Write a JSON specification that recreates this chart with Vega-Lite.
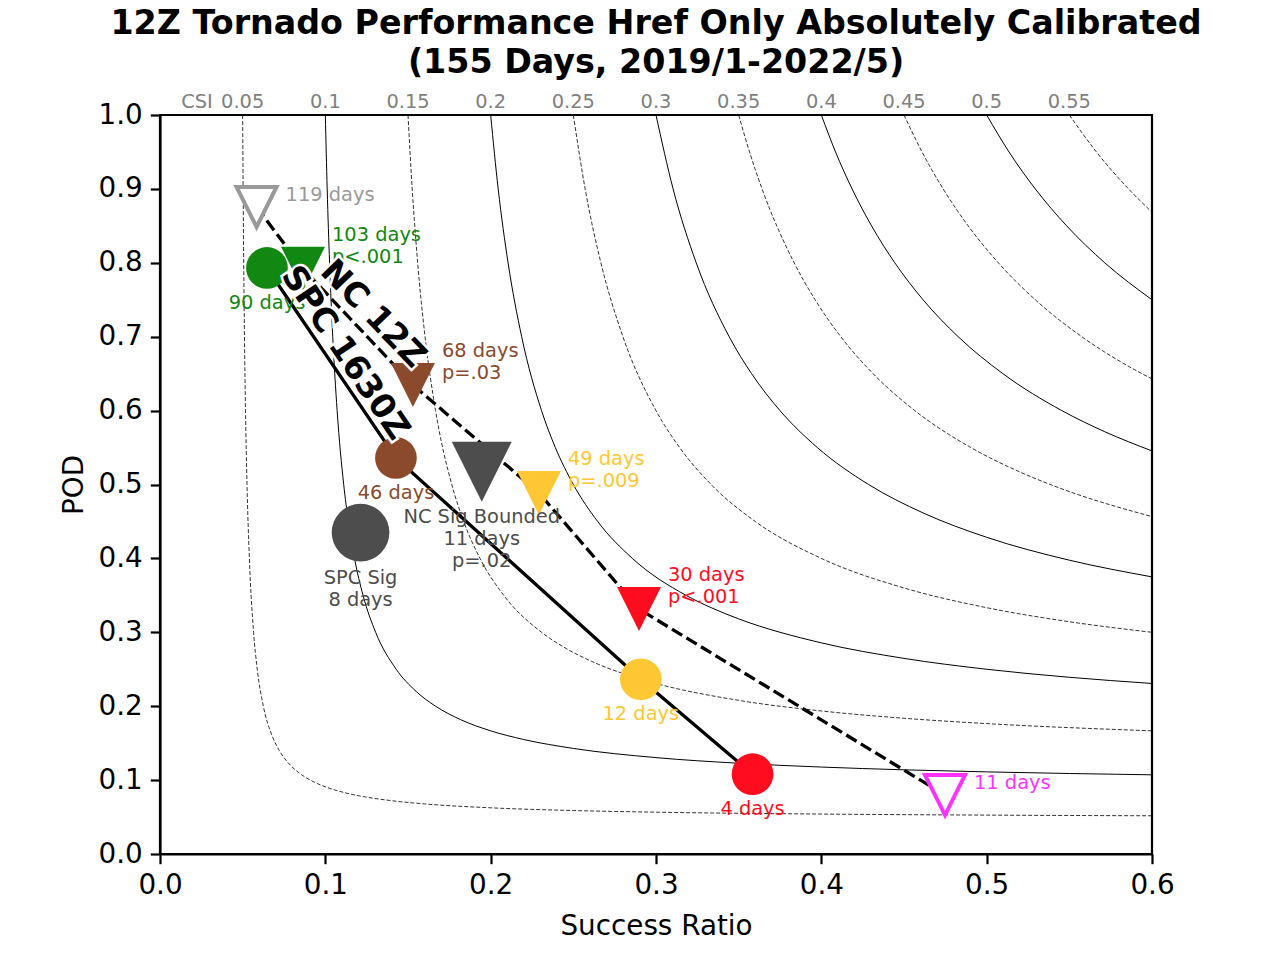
{
  "$schema": "https://vega.github.io/schema/vega-lite/v6.json",
  "width": 992,
  "height": 739,
  "autosize": "none",
  "padding": {"left": 160, "top": 115, "right": 128, "bottom": 106},
  "title": {
    "text": ["12Z Tornado Performance Href Only Absolutely Calibrated", "(155 Days, 2019/1-2022/5)"],
    "font": "DejaVu Sans",
    "fontSize": 33.3,
    "fontWeight": "bold",
    "color": "black",
    "anchor": "middle",
    "frame": "group",
    "lineHeight": 39,
    "offset": 12
  },
  "config": {
    "view": {"stroke": "black", "strokeWidth": 2.2},
    "axis": {
      "labelFont": "DejaVu Sans",
      "titleFont": "DejaVu Sans",
      "labelFontSize": 27.8,
      "titleFontSize": 27.8,
      "titleFontWeight": "normal",
      "labelColor": "black",
      "titleColor": "black",
      "tickColor": "black",
      "domainColor": "black",
      "tickSize": 9.7,
      "tickWidth": 2.2,
      "domainWidth": 2.2,
      "labelPadding": 8,
      "grid": false,
      "labelFlush": false,
      "labelOverlap": false
    },
    "text": {"font": "DejaVu Sans"}
  },
  "datasets": {
    "csiSolid": [
      {"csi": 0.1, "sr": 0.1, "pod": 1}, {"csi": 0.1, "sr": 0.10112, "pod": 0.9}, {"csi": 0.1, "sr": 0.10256, "pod": 0.8}, {"csi": 0.1, "sr": 0.10448, "pod": 0.7}, {"csi": 0.1, "sr": 0.10714, "pod": 0.6}, {"csi": 0.1, "sr": 0.11111, "pod": 0.5}, {"csi": 0.1, "sr": 0.11392, "pod": 0.45}, {"csi": 0.1, "sr": 0.11765, "pod": 0.4}, {"csi": 0.1, "sr": 0.12281, "pod": 0.35}, {"csi": 0.1, "sr": 0.13043, "pod": 0.3}, {"csi": 0.1, "sr": 0.14286, "pod": 0.25}, {"csi": 0.1, "sr": 0.15493, "pod": 0.22}, {"csi": 0.1, "sr": 0.16667, "pod": 0.2}, {"csi": 0.1, "sr": 0.18182, "pod": 0.18182}, {"csi": 0.1, "sr": 0.2, "pod": 0.16667}, {"csi": 0.1, "sr": 0.22, "pod": 0.15493}, {"csi": 0.1, "sr": 0.25, "pod": 0.14286}, {"csi": 0.1, "sr": 0.3, "pod": 0.13043}, {"csi": 0.1, "sr": 0.35, "pod": 0.12281}, {"csi": 0.1, "sr": 0.4, "pod": 0.11765}, {"csi": 0.1, "sr": 0.45, "pod": 0.11392}, {"csi": 0.1, "sr": 0.5, "pod": 0.11111}, {"csi": 0.1, "sr": 0.6, "pod": 0.10714},
      {"csi": 0.2, "sr": 0.2, "pod": 1}, {"csi": 0.2, "sr": 0.20455, "pod": 0.9}, {"csi": 0.2, "sr": 0.21053, "pod": 0.8}, {"csi": 0.2, "sr": 0.21875, "pod": 0.7}, {"csi": 0.2, "sr": 0.23077, "pod": 0.6}, {"csi": 0.2, "sr": 0.23913, "pod": 0.55}, {"csi": 0.2, "sr": 0.25, "pod": 0.5}, {"csi": 0.2, "sr": 0.26471, "pod": 0.45}, {"csi": 0.2, "sr": 0.28571, "pod": 0.4}, {"csi": 0.2, "sr": 0.31818, "pod": 0.35}, {"csi": 0.2, "sr": 0.33333, "pod": 0.33333}, {"csi": 0.2, "sr": 0.35, "pod": 0.31818}, {"csi": 0.2, "sr": 0.4, "pod": 0.28571}, {"csi": 0.2, "sr": 0.45, "pod": 0.26471}, {"csi": 0.2, "sr": 0.5, "pod": 0.25}, {"csi": 0.2, "sr": 0.55, "pod": 0.23913}, {"csi": 0.2, "sr": 0.6, "pod": 0.23077},
      {"csi": 0.3, "sr": 0.3, "pod": 1}, {"csi": 0.3, "sr": 0.31034, "pod": 0.9}, {"csi": 0.3, "sr": 0.32432, "pod": 0.8}, {"csi": 0.3, "sr": 0.34426, "pod": 0.7}, {"csi": 0.3, "sr": 0.3578, "pod": 0.65}, {"csi": 0.3, "sr": 0.375, "pod": 0.6}, {"csi": 0.3, "sr": 0.39759, "pod": 0.55}, {"csi": 0.3, "sr": 0.42857, "pod": 0.5}, {"csi": 0.3, "sr": 0.46154, "pod": 0.46154}, {"csi": 0.3, "sr": 0.5, "pod": 0.42857}, {"csi": 0.3, "sr": 0.55, "pod": 0.39759}, {"csi": 0.3, "sr": 0.6, "pod": 0.375},
      {"csi": 0.4, "sr": 0.4, "pod": 1}, {"csi": 0.4, "sr": 0.4086, "pod": 0.95}, {"csi": 0.4, "sr": 0.4186, "pod": 0.9}, {"csi": 0.4, "sr": 0.43038, "pod": 0.85}, {"csi": 0.4, "sr": 0.44444, "pod": 0.8}, {"csi": 0.4, "sr": 0.46154, "pod": 0.75}, {"csi": 0.4, "sr": 0.48276, "pod": 0.7}, {"csi": 0.4, "sr": 0.5098, "pod": 0.65}, {"csi": 0.4, "sr": 0.54545, "pod": 0.6}, {"csi": 0.4, "sr": 0.57143, "pod": 0.57143}, {"csi": 0.4, "sr": 0.6, "pod": 0.54545},
      {"csi": 0.5, "sr": 0.5, "pod": 1}, {"csi": 0.5, "sr": 0.51351, "pod": 0.95}, {"csi": 0.5, "sr": 0.52941, "pod": 0.9}, {"csi": 0.5, "sr": 0.54839, "pod": 0.85}, {"csi": 0.5, "sr": 0.57143, "pod": 0.8}, {"csi": 0.5, "sr": 0.6, "pod": 0.75}
    ],
    "csiDashed": [
      {"csi": 0.05, "sr": 0.05, "pod": 1}, {"csi": 0.05, "sr": 0.05028, "pod": 0.9}, {"csi": 0.05, "sr": 0.05063, "pod": 0.8}, {"csi": 0.05, "sr": 0.05109, "pod": 0.7}, {"csi": 0.05, "sr": 0.05172, "pod": 0.6}, {"csi": 0.05, "sr": 0.05263, "pod": 0.5}, {"csi": 0.05, "sr": 0.05405, "pod": 0.4}, {"csi": 0.05, "sr": 0.0566, "pod": 0.3}, {"csi": 0.05, "sr": 0.05882, "pod": 0.25}, {"csi": 0.05, "sr": 0.0625, "pod": 0.2}, {"csi": 0.05, "sr": 0.0678, "pod": 0.16}, {"csi": 0.05, "sr": 0.07216, "pod": 0.14}, {"csi": 0.05, "sr": 0.07895, "pod": 0.12}, {"csi": 0.05, "sr": 0.08397, "pod": 0.11}, {"csi": 0.05, "sr": 0.09091, "pod": 0.1}, {"csi": 0.05, "sr": 0.09524, "pod": 0.09524}, {"csi": 0.05, "sr": 0.1, "pod": 0.09091}, {"csi": 0.05, "sr": 0.11, "pod": 0.08397}, {"csi": 0.05, "sr": 0.12, "pod": 0.07895}, {"csi": 0.05, "sr": 0.14, "pod": 0.07216}, {"csi": 0.05, "sr": 0.16, "pod": 0.0678}, {"csi": 0.05, "sr": 0.2, "pod": 0.0625}, {"csi": 0.05, "sr": 0.25, "pod": 0.05882}, {"csi": 0.05, "sr": 0.3, "pod": 0.0566}, {"csi": 0.05, "sr": 0.4, "pod": 0.05405}, {"csi": 0.05, "sr": 0.5, "pod": 0.05263}, {"csi": 0.05, "sr": 0.6, "pod": 0.05172},
      {"csi": 0.15, "sr": 0.15, "pod": 1}, {"csi": 0.15, "sr": 0.15254, "pod": 0.9}, {"csi": 0.15, "sr": 0.15584, "pod": 0.8}, {"csi": 0.15, "sr": 0.16031, "pod": 0.7}, {"csi": 0.15, "sr": 0.16667, "pod": 0.6}, {"csi": 0.15, "sr": 0.17647, "pod": 0.5}, {"csi": 0.15, "sr": 0.18367, "pod": 0.45}, {"csi": 0.15, "sr": 0.19355, "pod": 0.4}, {"csi": 0.15, "sr": 0.20792, "pod": 0.35}, {"csi": 0.15, "sr": 0.23077, "pod": 0.3}, {"csi": 0.15, "sr": 0.24418, "pod": 0.28}, {"csi": 0.15, "sr": 0.26087, "pod": 0.26087}, {"csi": 0.15, "sr": 0.28, "pod": 0.24418}, {"csi": 0.15, "sr": 0.3, "pod": 0.23077}, {"csi": 0.15, "sr": 0.35, "pod": 0.20792}, {"csi": 0.15, "sr": 0.4, "pod": 0.19355}, {"csi": 0.15, "sr": 0.45, "pod": 0.18367}, {"csi": 0.15, "sr": 0.5, "pod": 0.17647}, {"csi": 0.15, "sr": 0.6, "pod": 0.16667},
      {"csi": 0.25, "sr": 0.25, "pod": 1}, {"csi": 0.25, "sr": 0.25714, "pod": 0.9}, {"csi": 0.25, "sr": 0.26667, "pod": 0.8}, {"csi": 0.25, "sr": 0.28, "pod": 0.7}, {"csi": 0.25, "sr": 0.3, "pod": 0.6}, {"csi": 0.25, "sr": 0.31429, "pod": 0.55}, {"csi": 0.25, "sr": 0.33333, "pod": 0.5}, {"csi": 0.25, "sr": 0.36, "pod": 0.45}, {"csi": 0.25, "sr": 0.4, "pod": 0.4}, {"csi": 0.25, "sr": 0.45, "pod": 0.36}, {"csi": 0.25, "sr": 0.5, "pod": 0.33333}, {"csi": 0.25, "sr": 0.55, "pod": 0.31429}, {"csi": 0.25, "sr": 0.6, "pod": 0.3},
      {"csi": 0.35, "sr": 0.35, "pod": 1}, {"csi": 0.35, "sr": 0.35657, "pod": 0.95}, {"csi": 0.35, "sr": 0.36416, "pod": 0.9}, {"csi": 0.35, "sr": 0.38356, "pod": 0.8}, {"csi": 0.35, "sr": 0.39623, "pod": 0.75}, {"csi": 0.35, "sr": 0.41176, "pod": 0.7}, {"csi": 0.35, "sr": 0.43128, "pod": 0.65}, {"csi": 0.35, "sr": 0.45652, "pod": 0.6}, {"csi": 0.35, "sr": 0.49043, "pod": 0.55}, {"csi": 0.35, "sr": 0.51852, "pod": 0.51852}, {"csi": 0.35, "sr": 0.53846, "pod": 0.5}, {"csi": 0.35, "sr": 0.55, "pod": 0.49043}, {"csi": 0.35, "sr": 0.6, "pod": 0.45652},
      {"csi": 0.45, "sr": 0.45, "pod": 1}, {"csi": 0.45, "sr": 0.46092, "pod": 0.95}, {"csi": 0.45, "sr": 0.47368, "pod": 0.9}, {"csi": 0.45, "sr": 0.48882, "pod": 0.85}, {"csi": 0.45, "sr": 0.50704, "pod": 0.8}, {"csi": 0.45, "sr": 0.52941, "pod": 0.75}, {"csi": 0.45, "sr": 0.55752, "pod": 0.7}, {"csi": 0.45, "sr": 0.5939, "pod": 0.65}, {"csi": 0.45, "sr": 0.6, "pod": 0.64286},
      {"csi": 0.55, "sr": 0.55, "pod": 1}, {"csi": 0.55, "sr": 0.56639, "pod": 0.95}, {"csi": 0.55, "sr": 0.5858, "pod": 0.9}, {"csi": 0.55, "sr": 0.6, "pod": 0.86842}
    ],
    "csiLabels": [
      {"t": "CSI", "sr": 0.0224, "pod": 1}, {"t": "0.05", "sr": 0.05, "pod": 1}, {"t": "0.1", "sr": 0.1, "pod": 1}, {"t": "0.15", "sr": 0.15, "pod": 1}, {"t": "0.2", "sr": 0.2, "pod": 1}, {"t": "0.25", "sr": 0.25, "pod": 1}, {"t": "0.3", "sr": 0.3, "pod": 1}, {"t": "0.35", "sr": 0.35, "pod": 1}, {"t": "0.4", "sr": 0.4, "pod": 1}, {"t": "0.45", "sr": 0.45, "pod": 1}, {"t": "0.5", "sr": 0.5, "pod": 1}, {"t": "0.55", "sr": 0.55, "pod": 1}
    ],
    "points": [
      {"model": "NC 12Z", "thr": "1%", "sr": 0.0584, "pod": 0.8755, "label": ["119 days"]},
      {"model": "NC 12Z", "thr": "2%", "sr": 0.0865, "pod": 0.792, "label": ["103 days", "p<.001"]},
      {"model": "NC 12Z", "thr": "5%", "sr": 0.153, "pod": 0.6346, "label": ["68 days", "p=.03"]},
      {"model": "NC 12Z", "thr": "10%", "sr": 0.2292, "pod": 0.4885, "label": ["49 days", "p=.009"]},
      {"model": "NC 12Z", "thr": "15%", "sr": 0.2897, "pod": 0.3315, "label": ["30 days", "p<.001"]},
      {"model": "NC 12Z", "thr": "30%", "sr": 0.4748, "pod": 0.0798, "label": ["11 days"]},
      {"model": "SPC 1630Z", "thr": "2%", "sr": 0.0647, "pod": 0.793, "label": ["90 days"]},
      {"model": "SPC 1630Z", "thr": "5%", "sr": 0.1427, "pod": 0.5359, "label": ["46 days"]},
      {"model": "SPC 1630Z", "thr": "10%", "sr": 0.2908, "pod": 0.2365, "label": ["12 days"]},
      {"model": "SPC 1630Z", "thr": "15%", "sr": 0.3584, "pod": 0.108, "label": ["4 days"]},
      {"model": "SPC 1630Z", "thr": "sig", "sr": 0.1213, "pod": 0.435, "label": ["SPC Sig", "8 days"]},
      {"model": "NC 12Z", "thr": "sig", "sr": 0.1946, "pod": 0.5173, "label": ["NC Sig Bounded", "11 days", "p=.02"]}
    ],
    "lineLabels": [
      {"model": "NC 12Z", "sr": 0.1288, "pod": 0.7307},
      {"model": "SPC 1630Z", "sr": 0.1119, "pod": 0.678}
    ]
  },
  "encoding": {
    "x": {"field": "sr", "type": "quantitative", "scale": {"domain": [0, 0.6], "nice": false, "zero": false}, "axis": {"title": "Success Ratio", "values": [0, 0.1, 0.2, 0.3, 0.4, 0.5, 0.6], "format": ".1f", "titlePadding": 13}},
    "y": {"field": "pod", "type": "quantitative", "scale": {"domain": [0, 1], "nice": false, "zero": false}, "axis": {"title": "POD", "values": [0, 0.1, 0.2, 0.3, 0.4, 0.5, 0.6, 0.7, 0.8, 0.9, 1], "format": ".1f", "titlePadding": 10}}
  },
  "layer": [
    {"data": {"name": "csiSolid"}, "mark": {"type": "line", "color": "black", "strokeWidth": 1, "interpolate": "monotone"}, "encoding": {"detail": {"field": "csi", "type": "nominal"}}},
    {"data": {"name": "csiDashed"}, "mark": {"type": "line", "color": "black", "strokeWidth": 0.8, "strokeDash": [4, 2], "interpolate": "monotone"}, "encoding": {"detail": {"field": "csi", "type": "nominal"}}},
    {"data": {"name": "csiLabels"}, "mark": {"type": "text", "fontSize": 19.4, "color": "#808080", "align": "center", "baseline": "alphabetic", "dy": -7}, "encoding": {"text": {"field": "t", "type": "nominal"}}},
    {"data": {"name": "points"}, "transform": [{"filter": "datum.model === 'SPC 1630Z' && datum.thr !== 'sig'"}], "mark": {"type": "line", "color": "black", "strokeWidth": 3.3}, "encoding": {}},
    {"data": {"name": "points"}, "transform": [{"filter": "datum.model === 'NC 12Z' && datum.thr !== 'sig'"}], "mark": {"type": "line", "color": "black", "strokeWidth": 3.3, "strokeDash": [12, 5]}, "encoding": {}},
    {"data": {"name": "points"}, "transform": [{"filter": "datum.model === 'SPC 1630Z' && datum.thr !== 'sig'"}], "mark": {"type": "point", "shape": "circle", "filled": true, "size": 1739, "opacity": 1}, "encoding": {"color": {"field": "thr", "type": "nominal", "scale": {"domain": ["1%", "2%", "5%", "10%", "15%", "30%", "sig"], "range": ["#999999", "#118811", "#8b4a2b", "#ffc733", "#ff0d1f", "#ff33ff", "#4d4d4d"]}, "legend": null}}},
    {"data": {"name": "points"}, "transform": [{"filter": "datum.model === 'SPC 1630Z' && datum.thr === 'sig'"}], "mark": {"type": "point", "shape": "circle", "filled": true, "size": 3330, "opacity": 1}, "encoding": {"color": {"field": "thr", "type": "nominal", "legend": null}}},
    {"data": {"name": "points"}, "transform": [{"filter": "datum.model === 'NC 12Z' && (datum.thr === '2%' || datum.thr === '5%' || datum.thr === '10%' || datum.thr === '15%')"}], "mark": {"type": "point", "shape": "M-1,-1L1,-1L0,1Z", "filled": true, "size": 1936, "opacity": 1}, "encoding": {"color": {"field": "thr", "type": "nominal", "legend": null}}},
    {"data": {"name": "points"}, "transform": [{"filter": "datum.model === 'NC 12Z' && datum.thr === 'sig'"}], "mark": {"type": "point", "shape": "M-1,-1L1,-1L0,1Z", "filled": true, "size": 3600, "opacity": 1}, "encoding": {"color": {"field": "thr", "type": "nominal", "legend": null}}},
    {"data": {"name": "points"}, "transform": [{"filter": "datum.thr === '1%' || datum.thr === '30%'"}], "mark": {"type": "point", "shape": "M-1,-1L1,-1L0,1Z", "filled": false, "fill": "white", "fillOpacity": 1, "strokeWidth": 4, "size": 1600, "opacity": 1}, "encoding": {"stroke": {"field": "thr", "type": "nominal", "scale": {"domain": ["1%", "2%", "5%", "10%", "15%", "30%", "sig"], "range": ["#999999", "#118811", "#8b4a2b", "#ffc733", "#ff0d1f", "#ff33ff", "#4d4d4d"]}, "legend": null}}},
    {"data": {"name": "points"}, "transform": [{"filter": "datum.thr === '1%' || datum.thr === '30%'"}], "mark": {"type": "text", "fontSize": 19.4, "lineHeight": 22, "align": "left", "baseline": "bottom", "dx": 29, "dy": -2}, "encoding": {"text": {"field": "label", "type": "nominal"}, "color": {"field": "thr", "type": "nominal", "legend": null}}},
    {"data": {"name": "points"}, "transform": [{"filter": "datum.model === 'NC 12Z' && (datum.thr === '2%' || datum.thr === '5%' || datum.thr === '10%' || datum.thr === '15%')"}], "mark": {"type": "text", "fontSize": 19.4, "lineHeight": 22, "align": "left", "baseline": "bottom", "dx": 29, "dy": -24}, "encoding": {"text": {"field": "label", "type": "nominal"}, "color": {"field": "thr", "type": "nominal", "legend": null}}},
    {"data": {"name": "points"}, "transform": [{"filter": "datum.model === 'SPC 1630Z' && datum.thr !== 'sig'"}], "mark": {"type": "text", "fontSize": 19.4, "lineHeight": 22, "align": "center", "baseline": "top", "dy": 26}, "encoding": {"text": {"field": "label", "type": "nominal"}, "color": {"field": "thr", "type": "nominal", "legend": null}}},
    {"data": {"name": "points"}, "transform": [{"filter": "datum.thr === 'sig'"}], "mark": {"type": "text", "fontSize": 19.4, "lineHeight": 22, "align": "center", "baseline": "top", "dy": 36}, "encoding": {"text": {"field": "label", "type": "nominal"}, "color": {"field": "thr", "type": "nominal", "legend": null}}},
    {"data": {"name": "lineLabels"}, "transform": [{"filter": "datum.model === 'NC 12Z'"}], "mark": {"type": "text", "fontSize": 33.3, "fontWeight": "bold", "angle": 46, "align": "center", "baseline": "middle", "fill": "white", "stroke": "white", "strokeWidth": 5}, "encoding": {"text": {"field": "model", "type": "nominal"}}},
    {"data": {"name": "lineLabels"}, "transform": [{"filter": "datum.model === 'NC 12Z'"}], "mark": {"type": "text", "fontSize": 33.3, "fontWeight": "bold", "angle": 46, "align": "center", "baseline": "middle", "color": "black"}, "encoding": {"text": {"field": "model", "type": "nominal"}}},
    {"data": {"name": "lineLabels"}, "transform": [{"filter": "datum.model === 'SPC 1630Z'"}], "mark": {"type": "text", "fontSize": 33.3, "fontWeight": "bold", "angle": 56, "align": "center", "baseline": "middle", "fill": "white", "stroke": "white", "strokeWidth": 5}, "encoding": {"text": {"field": "model", "type": "nominal"}}},
    {"data": {"name": "lineLabels"}, "transform": [{"filter": "datum.model === 'SPC 1630Z'"}], "mark": {"type": "text", "fontSize": 33.3, "fontWeight": "bold", "angle": 56, "align": "center", "baseline": "middle", "color": "black"}, "encoding": {"text": {"field": "model", "type": "nominal"}}}
  ]
}
